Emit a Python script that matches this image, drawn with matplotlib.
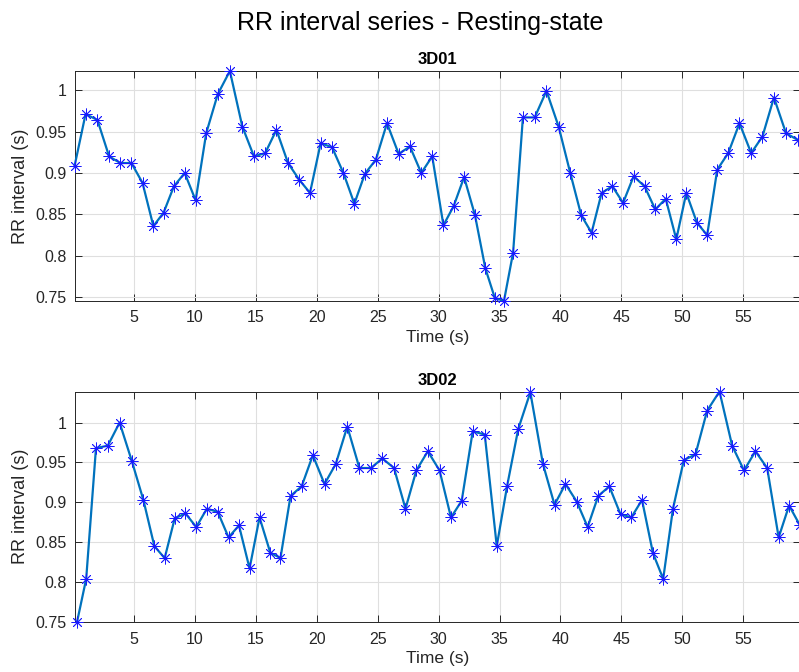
import numpy as np
import matplotlib
matplotlib.use('Agg')
from matplotlib import pyplot as plt
from matplotlib.ticker import FuncFormatter

plt.rcParams['font.family'] = ['Liberation Sans', 'DejaVu Sans']

  # RR intervals (s), one value per detected beat

rr_3d01 = [0.908, 0.971, 0.964, 0.920, 0.912, 0.912, 0.888, 0.836, 0.852, 0.884,
           0.900, 0.867, 0.948, 0.995, 1.023, 0.956, 0.920, 0.924, 0.952, 0.912,
           0.892, 0.876, 0.936, 0.931, 0.900, 0.863, 0.899, 0.916, 0.960, 0.923,
           0.932, 0.900, 0.920, 0.837, 0.860, 0.895, 0.849, 0.785, 0.749, 0.746,
           0.804, 0.967, 0.967, 0.999, 0.956, 0.900, 0.849, 0.828, 0.876, 0.884,
           0.864, 0.896, 0.884, 0.856, 0.869, 0.820, 0.876, 0.840, 0.825, 0.904,
           0.924, 0.960, 0.924, 0.944, 0.991, 0.948, 0.940]

rr_3d02 = [0.750, 0.804, 0.968, 0.971, 1.000, 0.952, 0.903, 0.845, 0.830, 0.880,
           0.886, 0.869, 0.892, 0.888, 0.856, 0.871, 0.817, 0.881, 0.837, 0.830,
           0.908, 0.920, 0.959, 0.923, 0.948, 0.995, 0.943, 0.943, 0.955, 0.943,
           0.892, 0.940, 0.964, 0.940, 0.881, 0.902, 0.989, 0.985, 0.845, 0.920,
           0.992, 1.038, 0.948, 0.897, 0.923, 0.901, 0.869, 0.908, 0.920, 0.885,
           0.881, 0.903, 0.836, 0.804, 0.892, 0.953, 0.960, 1.015, 1.039, 0.971,
           0.940, 0.964, 0.943, 0.856, 0.896, 0.871]

  # time of the first beat of each recording (s)

t0_3d01 = 0.10
t0_3d02 = 0.31

subjects = ['3D01', '3D02']
x_ticks = [5, 10, 15, 20, 25, 30, 35, 40, 45, 50, 55]
y_ticks = [0.75, 0.8, 0.85, 0.9, 0.95, 1.0]


def beat_times(t0, rr):
    # each beat starts where the previous interval ends
    rr = np.asarray(rr)
    return t0 + np.concatenate([[0.0], np.cumsum(rr[:-1])])


t_3d01 = beat_times(t0_3d01, rr_3d01)
t_3d02 = beat_times(t0_3d02, rr_3d02)
xlim = (min(t_3d01[0], t_3d02[0]), max(t_3d01[-1], t_3d02[-1]))

  # Figure

W, H = 799, 672
fig = plt.figure(figsize=(W / 100, H / 100), dpi=100)

ax_top = fig.add_axes([74.5 / W, 1 - 300.7 / H, (800 - 74.5) / W, (300.7 - 71) / H])
ax_bot = fig.add_axes([74.5 / W, 1 - 621.9 / H, (800 - 74.5) / W, (621.9 - 391.5) / H])

dark = '#262626'

for ax, t, rr, name in zip([ax_top, ax_bot], [t_3d01, t_3d02], [rr_3d01, rr_3d02], subjects):
    ax.plot(t, rr, color='#0072BD', lw=1.6, marker=(8, 2, 0), markersize=8.5,
            markeredgecolor='#1a1aff', markerfacecolor='none', markeredgewidth=0.6,
            clip_on=False, zorder=3)
    ax.set_xlim(xlim)
    ax.set_ylim(min(rr), max(rr))
    ax.set_xticks(x_ticks)
    ax.set_yticks(y_ticks)
    ax.yaxis.set_major_formatter(FuncFormatter(lambda v, p: f'{v:g}'))
    ax.grid(True, color='#dfdfdf', lw=0.8)
    ax.set_axisbelow(True)
    for s in ax.spines.values():
        s.set_color(dark)
        s.set_linewidth(0.7)
    ax.tick_params(direction='in', length=5, width=0.7, color=dark, labelcolor=dark,
                   labelsize=11.5, top=True, right=True)
    ax.tick_params(axis='x', pad=7)
    ax.tick_params(axis='y', pad=5.5)
    ax.set_xlabel('Time (s)', fontsize=12.5, color=dark, labelpad=3)
    ax.set_ylabel('RR interval (s)', fontsize=13, color=dark, labelpad=5)
    ax.set_title(name, fontsize=12, fontweight='bold', pad=5)

fig.text(420.5 / W, 1 - 30 / H, 'RR interval series - Resting-state',
         ha='center', va='baseline', fontsize=18, color='black')

plt.savefig('out.png', dpi=100)
